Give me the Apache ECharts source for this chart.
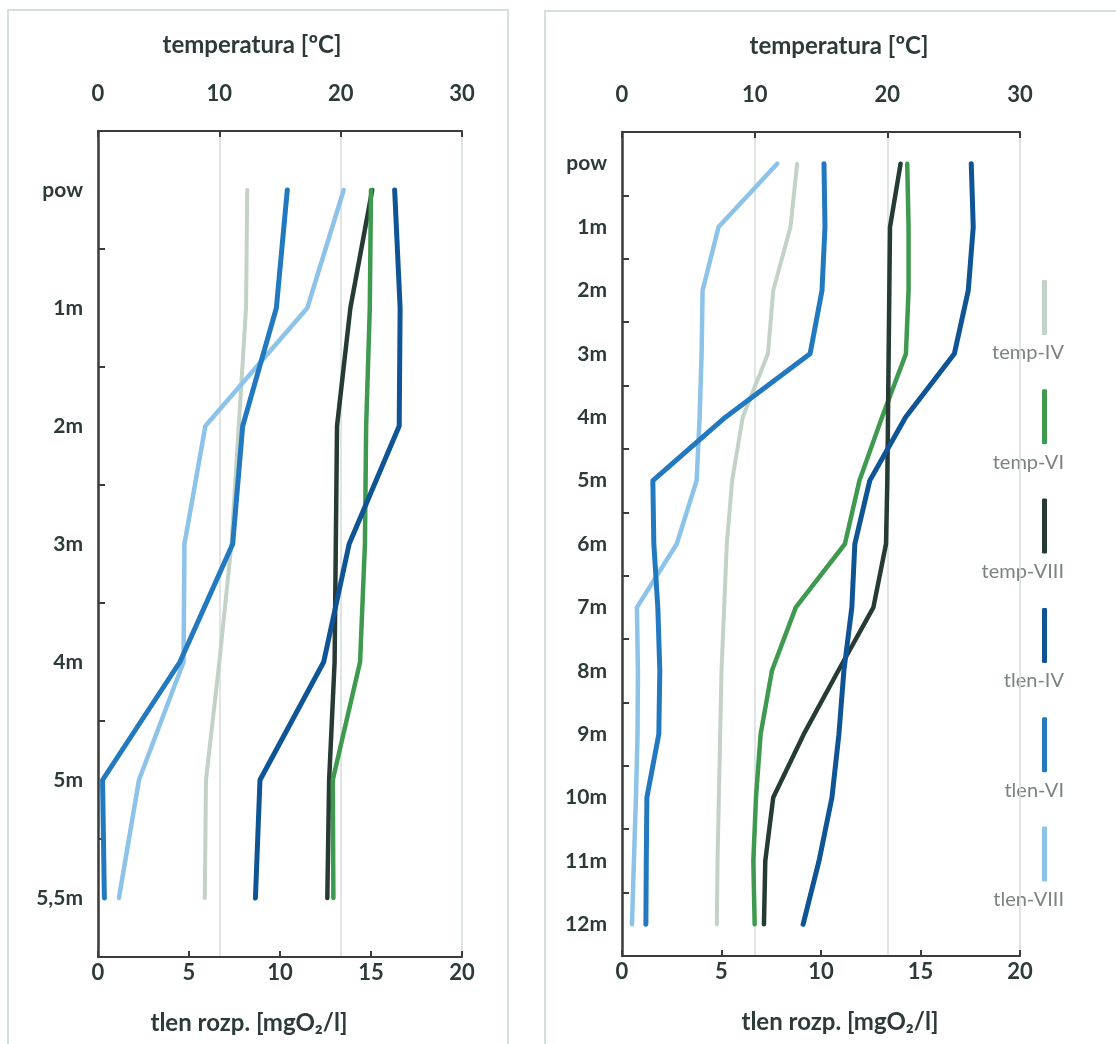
<!DOCTYPE html>
<html><head><meta charset="utf-8">
<script src="https://cdn.jsdelivr.net/npm/echarts@6/dist/echarts.min.js"></script>
<style>html,body{margin:0;padding:0;background:#fff}#c{width:1116px;height:1044px}</style>
</head><body><div id="c"></div>
<script>
// ---- categories / ticks ----
const leftDepths = ['pow','1m','2m','3m','4m','5m','5,5m'];
const rightDepths = ['pow','1m','2m','3m','4m','5m','6m','7m','8m','9m','10m','11m','12m'];
const seriesNames = ['temp-IV','temp-VI','temp-VIII','tlen-IV','tlen-VI','tlen-VIII'];
const tempAxisName = 'temperatura [ºC]';
const oxyAxisName = 'tlen rozp. [mgO₂/l]';

// ---- left chart (temperature °C, oxygen mgO2/l) ----
const L_tempIV   = [12.3, 12.2, 11.6, 11.0, 10.0, 8.9, 8.8];
const L_tempVI   = [22.5, 22.4, 22.1, 22.0, 21.6, 19.35, 19.4];
const L_tempVIII = [22.6, 20.8, 19.7, 19.6, 19.5, 19.05, 18.9];
const L_tlenIV   = [16.3, 16.6, 16.55, 13.8, 12.4, 8.9, 8.65];
const L_tlenVI   = [10.4, 9.8, 7.95, 7.4, 4.5, 0.25, 0.35];
const L_tlenVIII = [13.5, 11.5, 5.9, 4.75, 4.7, 2.25, 1.15];

// ---- right chart ----
const R_tempIV   = [13.2, 12.7, 11.4, 11.0, 9.1, 8.3, 7.9, 7.7, 7.5, 7.4, 7.3, 7.2, 7.15];
const R_tempVI   = [21.5, 21.6, 21.6, 21.4, 19.6, 17.9, 16.8, 13.1, 11.3, 10.45, 10.1, 9.9, 10.0];
const R_tempVIII = [21.0, 20.2, 20.15, 20.1, 20.05, 20.0, 19.9, 18.95, 16.3, 13.7, 11.4, 10.8, 10.7];
const R_tlenIV   = [17.55, 17.65, 17.4, 16.7, 14.25, 12.45, 11.7, 11.55, 11.15, 10.9, 10.55, 9.9, 9.1];
const R_tlenVI   = [10.15, 10.2, 10.05, 9.45, 5.2, 1.55, 1.6, 1.8, 1.9, 1.85, 1.25, 1.22, 1.2];
const R_tlenVIII = [7.8, 4.85, 4.05, 4.0, 3.9, 3.75, 2.75, 0.75, 0.8, 0.78, 0.7, 0.6, 0.5];

const colors = {
  'temp-IV': '#c3d2c6', 'temp-VI': '#3f9a50', 'temp-VIII': '#263b33',
  'tlen-IV': '#0f5495', 'tlen-VI': '#2379bf', 'tlen-VIII': '#8dc3e8'
};
const widths = {'temp-IV':4,'temp-VI':4.5,'temp-VIII':4.5,'tlen-IV':5,'tlen-VI':5,'tlen-VIII':4.5};

const FONT = 'Lato';
const TXT = '#2d3a3a';
const AX = '#3a3d3c';

function tempAxis(grid, pad) {
  return {
    type: 'value', gridIndex: grid, position: 'top', min: 0, max: 30, interval: 10,
    name: tempAxisName, nameLocation: 'middle', nameGap: 74,
    nameTextStyle: {fontFamily: FONT, fontWeight: 'bold', fontSize: 24, color: TXT, padding: pad},
    axisLine: {show: true, lineStyle: {color: AX, width: 2}},
    axisTick: {show: true, inside: true, length: 6, lineStyle: {color: AX, width: 2}},
    axisLabel: {fontFamily: FONT, fontWeight: 'bold', fontSize: 22, color: TXT, margin: 26},
    splitLine: {show: true, lineStyle: {color: '#d3dcd8', width: 1.5}}
  };
}
function oxyAxis(grid, pad) {
  return {
    type: 'value', gridIndex: grid, position: 'bottom', min: 0, max: 20, interval: 5,
    name: oxyAxisName, nameLocation: 'middle', nameGap: 54,
    nameTextStyle: {fontFamily: FONT, fontWeight: 'bold', fontSize: 24, color: TXT, padding: pad},
    axisLine: {show: true, lineStyle: {color: AX, width: 2}},
    axisTick: {show: true, inside: true, length: 6, lineStyle: {color: AX, width: 2}},
    axisLabel: {fontFamily: FONT, fontWeight: 'bold', fontSize: 22, color: TXT, margin: 5},
    splitLine: {show: false}
  };
}
function depthAxis(grid, cats) {
  return {
    type: 'category', gridIndex: grid, data: cats, inverse: true, boundaryGap: true,
    axisLine: {show: true, lineStyle: {color: AX, width: 2.5}},
    axisTick: {show: true, inside: true, length: 7, lineStyle: {color: AX, width: 2}},
    axisLabel: {fontFamily: FONT, fontWeight: 'bold', fontSize: 21, color: TXT, margin: 15},
    splitLine: {show: false}
  };
}
function mk(name, data, xi, yi) {
  return {
    type: 'line', name: name, data: data, xAxisIndex: xi, yAxisIndex: yi,
    symbol: 'none', showSymbol: false, color: colors[name],
    lineStyle: {color: colors[name], width: widths[name], cap: 'round', join: 'round'},
    itemStyle: {color: colors[name]}, animation: false
  };
}

const legendTop = 280, legendStep = 109.3;

const option = {
  backgroundColor: '#ffffff',
  animation: false,
  grid: [
    {left: 98, top: 131, width: 364, height: 826},
    {left: 622, top: 132, width: 398, height: 824}
  ],
  xAxis: [
    tempAxis(0, [0, 56, 0, 0]), oxyAxis(0, [0, 62, 0, 0]),
    tempAxis(1, [0, 0, 0, 36]), oxyAxis(1, [0, 0, 0, 38])
  ],
  yAxis: [depthAxis(0, leftDepths), depthAxis(1, rightDepths)],
  legend: {
    orient: 'vertical', left: 1042, top: legendTop, padding: 0,
    itemWidth: 5, itemHeight: 55, itemGap: legendStep - 55,
    icon: 'roundRect', selectedMode: false, formatter: function () { return ''; },
    data: seriesNames
  },
  graphic: [
    {type: 'rect', silent: true, z: -10, shape: {x: 8, y: 10, width: 500, height: 1050},
     style: {fill: 'none', stroke: '#d5dfdb', lineWidth: 2}},
    {type: 'rect', silent: true, z: -10, shape: {x: 545, y: 11, width: 600, height: 1050},
     style: {fill: 'none', stroke: '#d5dfdb', lineWidth: 2}}
  ].concat(seriesNames.map(function (n, i) {
    return {type: 'text', silent: true, right: 1116 - 1064, top: legendTop + 63 + i * legendStep,
      style: {text: n, fontFamily: FONT, fontSize: 20, fill: '#7b8381', textAlign: 'right'}};
  })),
  series: [
    mk('temp-IV', L_tempIV, 0, 0), mk('temp-VIII', L_tempVIII, 0, 0), mk('temp-VI', L_tempVI, 0, 0),
    mk('tlen-IV', L_tlenIV, 1, 0), mk('tlen-VIII', L_tlenVIII, 1, 0), mk('tlen-VI', L_tlenVI, 1, 0),
    mk('temp-IV', R_tempIV, 2, 1), mk('temp-VI', R_tempVI, 2, 1), mk('temp-VIII', R_tempVIII, 2, 1),
    mk('tlen-IV', R_tlenIV, 3, 1), mk('tlen-VIII', R_tlenVIII, 3, 1), mk('tlen-VI', R_tlenVI, 3, 1)
  ]
};
const chart = echarts.init(document.getElementById('c'), null, {renderer: 'canvas'});
chart.setOption(option);
</script>
</body></html>
